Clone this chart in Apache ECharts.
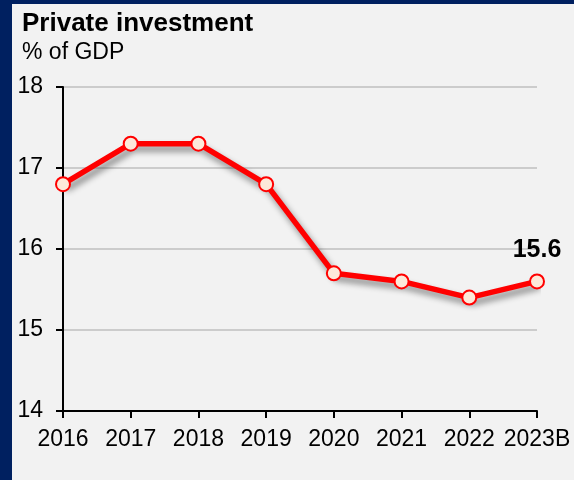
<!DOCTYPE html>
<html>
<head>
<meta charset="utf-8">
<script src="https://cdn.jsdelivr.net/npm/echarts@6/dist/echarts.min.js"></script>
<style>
  html, body { margin: 0; padding: 0; width: 574px; height: 480px; background: #002060; overflow: hidden; }
  #chart { position: absolute; left: 12px; top: 4px; width: 562px; height: 476px; background: #F2F2F2; }
</style>
</head>
<body>
<div id="chart"></div>
<script>
// Private investment, % of GDP
const years = ['2016', '2017', '2018', '2019', '2020', '2021', '2022', '2023B'];
const investment = [16.8, 17.3, 17.3, 16.8, 15.7, 15.6, 15.4, 15.6];
const yTicks = { min: 14, max: 18, interval: 1 };

const chart = echarts.init(document.getElementById('chart'));
const font = 'Arial, "Liberation Sans", sans-serif';

chart.setOption({
  backgroundColor: '#F2F2F2',
  animation: false,
  title: [
    { text: 'Private investment', left: 5, top: 2,
      textStyle: { fontFamily: font, fontSize: 26, fontWeight: 'bold', color: '#000' } },
    { text: '% of GDP', left: 5, top: 32,
      textStyle: { fontFamily: font, fontSize: 23, fontWeight: 'normal', color: '#000' } }
  ],
  grid: { left: 51, right: 37, top: 83, bottom: 69 },
  xAxis: {
    type: 'category',
    data: years,
    boundaryGap: false,
    axisLine: { lineStyle: { color: '#000', width: 2 } },
    axisTick: { show: true, length: 7, lineStyle: { color: '#000', width: 2 } },
    axisLabel: { fontFamily: font, fontSize: 23, color: '#000', margin: 17, interval: 0 }
  },
  yAxis: {
    type: 'value',
    min: yTicks.min, max: yTicks.max, interval: yTicks.interval,
    axisLine: { show: true, lineStyle: { color: '#000', width: 2 } },
    axisTick: { show: true, length: 7, lineStyle: { color: '#000', width: 2 } },
    axisLabel: { fontFamily: font, fontSize: 23, color: '#000', margin: 20 },
    splitLine: { lineStyle: { color: '#BFBFBF', width: 1.5 } }
  },
  series: [{
    type: 'line',
    data: investment.map((v, i) => i === investment.length - 1
      ? { value: v, label: { show: true, position: 'top', distance: 11,
          fontFamily: font, fontSize: 25, fontWeight: 'bold', color: '#000',
          formatter: p => p.value.toFixed(1) } }
      : v),
    symbol: 'circle',
    symbolSize: 14,
    lineStyle: { color: '#FF0000', width: 5.5,
      shadowColor: 'rgba(0,0,0,0.45)', shadowBlur: 6, shadowOffsetX: 3, shadowOffsetY: 5 },
    itemStyle: { color: '#FDE9D9', borderColor: '#FF0000', borderWidth: 2 },
    z: 3
  }]
});
</script>
</body>
</html>
